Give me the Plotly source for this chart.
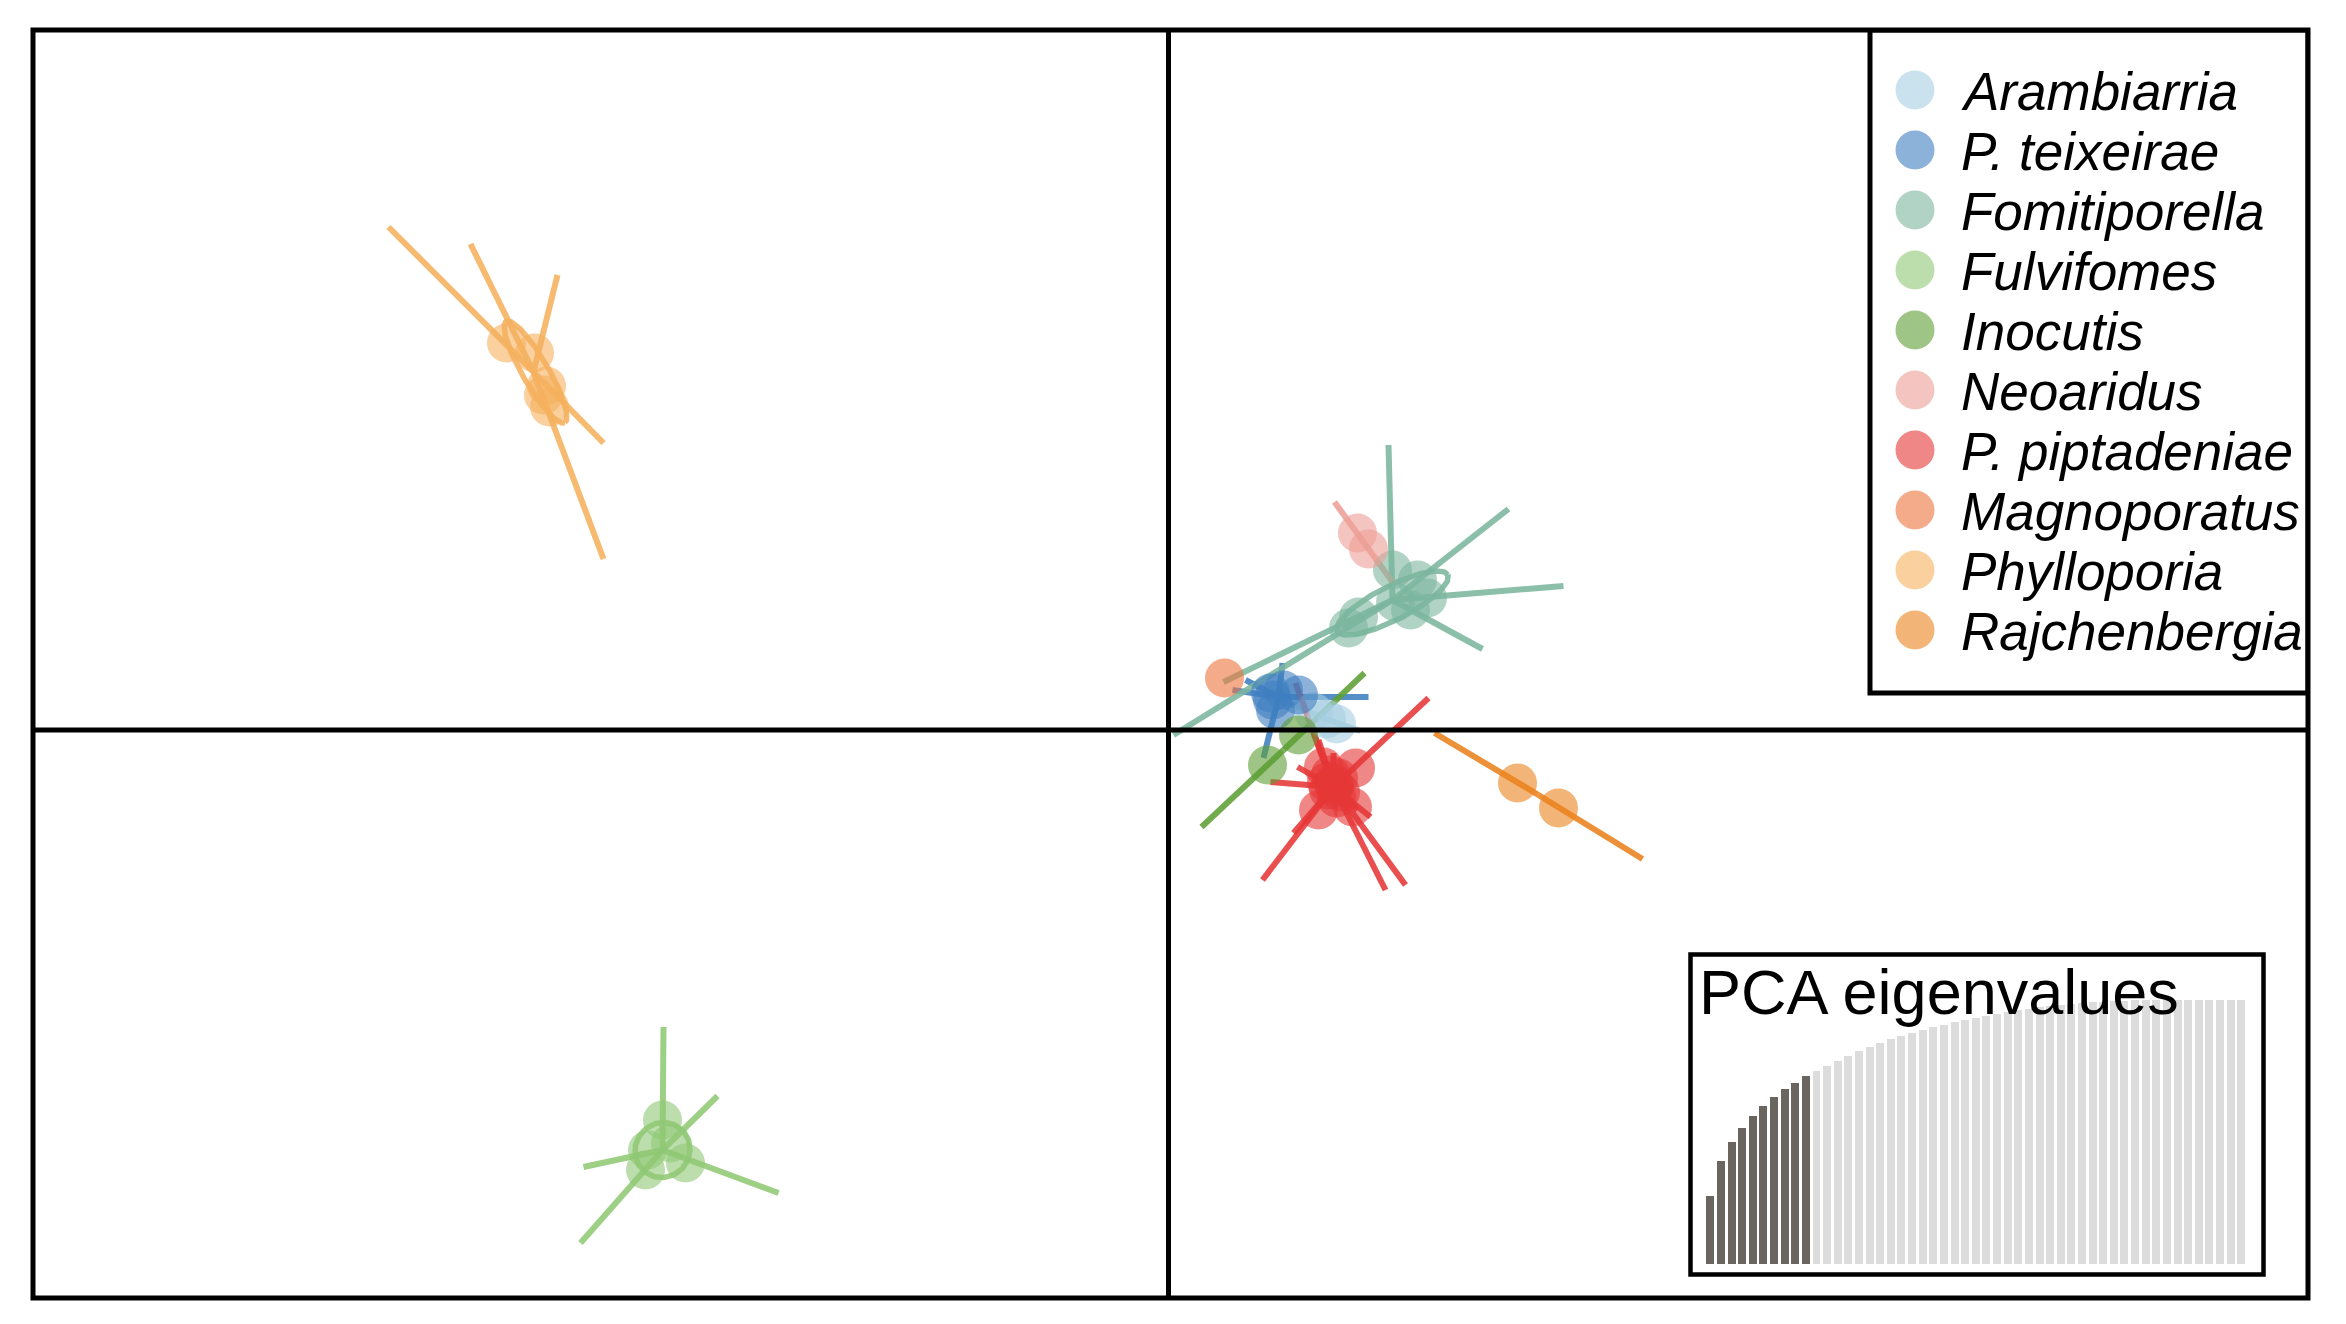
import math
import plotly.graph_objects as go

# ---------------- data ----------------
GROUPS = ["Arambiarria", "P. teixeirae", "Fomitiporella", "Fulvifomes", "Inocutis",
          "Neoaridus", "P. piptadeniae", "Magnoporatus", "Phylloporia", "Rajchenbergia"]
COLORS = ["#a6cee3", "#3f7fc0", "#7bb69e", "#8fc874", "#5e9e35",
          "#ed9e96", "#e63737", "#eb733c", "#f5b15d", "#eb821c"]

# individuals (discriminant function coordinates)
ARAM_X = [1.45, 1.58, 1.68]
ARAM_Y = [0.18, 0.11, 0.06]
TEIX_X = [1.02, 1.15, 1.30, 1.07, 1.04]
TEIX_Y = [0.37, 0.40, 0.35, 0.20, 0.30]
FOMI_X = [2.24, 2.49, 2.59, 2.27, 2.42, 1.90, 1.80]
FOMI_Y = [1.60, 1.50, 1.32, 1.28, 1.20, 1.13, 1.02]
FULV_X = [-5.06, -4.83, -5.23, -5.21, -4.98]
FULV_Y = [-3.90, -4.33, -4.40, -4.20, -4.13]
INOC_X = [1.30, 0.99]
INOC_Y = [-0.05, -0.35]
NEOA_X = [1.89, 2.00]
NEOA_Y = [1.97, 1.81]
PIPT_X = [1.87, 1.84, 1.50, 1.55, 1.65, 1.60, 1.70, 1.62, 1.72, 1.58, 1.68, 1.66]
PIPT_Y = [-0.38, -0.77, -0.80, -0.37, -0.53, -0.60, -0.48, -0.45, -0.62, -0.52, -0.68, -0.56]
MAGN_X = [0.56]
MAGN_Y = [0.52]
PHYL_X = [-6.62, -6.34, -6.22, -6.19, -6.25]
PHYL_Y = [3.87, 3.77, 3.44, 3.23, 3.35]
RAJC_X = [3.49, 3.90]
RAJC_Y = [-0.53, -0.78]

# group centroids
CENT_X = [1.55, 1.10, 2.24, -5.06, 1.15, 1.95, 1.65, 0.56, -6.35, 3.70]
CENT_Y = [0.12, 0.33, 1.30, -4.20, -0.20, 1.88, -0.57, 0.52, 3.58, -0.65]

# star segment end points
ARAM_SX = [1.12, 1.92]
ARAM_SY = [0.31, -0.01]
TEIX_SX = [0.64, 0.77, 1.14, 2.00, 0.95]
TEIX_SY = [0.40, 0.50, 0.67, 0.33, -0.28]
FOMI_SX = [2.20, 3.40, 3.95, 3.14, 0.05, 0.55]
FOMI_SY = [2.85, 2.21, 1.44, 0.81, -0.05, 0.48]
FULV_SX = [-5.05, -4.51, -3.90, -5.88, -5.85]
FULV_SY = [-2.97, -3.66, -4.63, -5.13, -4.37]
INOC_SX = [0.33, 1.96]
INOC_SY = [-0.97, 0.57]
NEOA_SX = [1.66, 2.24]
NEOA_SY = [2.28, 1.48]
PIPT_SX = [1.27, 2.60, 0.94, 2.17, 2.37, 1.02, 1.29, 2.02, 1.25, 1.50, 1.65, 1.45, 1.89]
PIPT_SY = [0.47, 0.32, -1.50, -1.60, -1.55, -0.52, -0.37, -0.87, -1.03, -0.10, -0.23, -0.03, -0.80]
MAGN_SX = [0.56]
MAGN_SY = [0.52]
PHYL_SX = [-7.80, -5.65, -6.98, -5.65, -6.11]
PHYL_SY = [5.03, 2.87, 4.86, 1.71, 4.55]
RAJC_SX = [2.66, 4.74]
RAJC_SY = [-0.03, -1.29]

# inertia ellipses: group index, centre x, centre y, semi-axis a, semi-axis b, angle (deg)
ELL_GROUP = [2, 3, 8]
ELL_CX = [2.24, -5.06, -6.33]
ELL_CY = [1.27, -4.20, 3.58]
ELL_A = [0.62, 0.28, 0.585]
ELL_B = [0.17, 0.27, 0.13]
ELL_ANG = [27, 45, -60]

# PCA eigenvalues inset (cumulative, relative)
EIG_VALUES = [0.259, 0.392, 0.465, 0.516, 0.561, 0.601, 0.633, 0.662, 0.687, 0.711,
              0.732, 0.749, 0.770, 0.789, 0.806, 0.823, 0.837, 0.851, 0.863, 0.875,
              0.886, 0.897, 0.906, 0.915, 0.924, 0.933, 0.941, 0.948, 0.954, 0.961,
              0.967, 0.972, 0.977, 0.981, 0.985, 0.989, 0.991, 0.994, 0.996, 0.997,
              0.999, 1.0, 1.0, 1.0, 1.0, 1.0, 1.0, 1.0, 1.0, 1.0, 1.0]
N_RETAINED = 10

POINTS = [(ARAM_X, ARAM_Y), (TEIX_X, TEIX_Y), (FOMI_X, FOMI_Y), (FULV_X, FULV_Y),
          (INOC_X, INOC_Y), (NEOA_X, NEOA_Y), (PIPT_X, PIPT_Y), (MAGN_X, MAGN_Y),
          (PHYL_X, PHYL_Y), (RAJC_X, RAJC_Y)]
STARS = [(ARAM_SX, ARAM_SY), (TEIX_SX, TEIX_SY), (FOMI_SX, FOMI_SY), (FULV_SX, FULV_SY),
         (INOC_SX, INOC_SY), (NEOA_SX, NEOA_SY), (PIPT_SX, PIPT_SY), (MAGN_SX, MAGN_SY),
         (PHYL_SX, PHYL_SY), (RAJC_SX, RAJC_SY)]

# ---------------- layout constants ----------------
W, H = 2346, 1324            # browser window
OFF = 8                      # default body margin of the html page
ML, MR, MT, MB = 33, 38, 30, 26   # frame position in page pixels
X_RANGE = [-11.355, 11.395]
Y_RANGE = [-5.68, 7.00]
PX_X = [ML, W - MR]          # page-pixel frame for overlay axis
PX_Y = [H - MB, MT]
FONT = "Liberation Sans, Arial, Helvetica, sans-serif"
DOT_ALPHA = 0.6
LINE_ALPHA = 0.88


def rgba(hex_color, a):
    h = hex_color.lstrip("#")
    r, g, b = int(h[0:2], 16), int(h[2:4], 16), int(h[4:6], 16)
    return f"rgba({r},{g},{b},{a})"


fig = go.Figure()

# ellipses
for gi, cx, cy, a, b, ang in zip(ELL_GROUP, ELL_CX, ELL_CY, ELL_A, ELL_B, ELL_ANG):
    th = math.radians(ang)
    ex, ey = [], []
    for k in range(121):
        t = 2 * math.pi * k / 120
        ex.append(cx + a * math.cos(t) * math.cos(th) - b * math.sin(t) * math.sin(th))
        ey.append(cy + a * math.cos(t) * math.sin(th) + b * math.sin(t) * math.cos(th))
    fig.add_trace(go.Scatter(x=ex, y=ey, mode="lines", hoverinfo="skip", showlegend=False,
                             line=dict(color=rgba(COLORS[gi], LINE_ALPHA), width=5.5)))

# stars
for gi, (sx, sy) in enumerate(STARS):
    lx, ly = [], []
    for x, y in zip(sx, sy):
        lx += [CENT_X[gi], x, None]
        ly += [CENT_Y[gi], y, None]
    fig.add_trace(go.Scatter(x=lx, y=ly, mode="lines", hoverinfo="skip", showlegend=False,
                             line=dict(color=rgba(COLORS[gi], LINE_ALPHA), width=6)))

# individuals
for gi, (px, py) in enumerate(POINTS):
    fig.add_trace(go.Scatter(x=px, y=py, mode="markers", name=GROUPS[gi], showlegend=False,
                             marker=dict(size=39, color=rgba(COLORS[gi], DOT_ALPHA),
                                         line=dict(width=0))))

# ---------------- custom legend (overlay axis in page-pixel units) ----------------
LEG_MARK_X = 1915
LEG_TEXT_X = 1959
LEG_Y0 = 90
LEG_DY = 60
leg_y = [LEG_Y0 + LEG_DY * i for i in range(len(GROUPS))]
fig.add_trace(go.Scatter(x=[LEG_MARK_X] * len(GROUPS), y=leg_y, mode="markers",
                         xaxis="x2", yaxis="y2", showlegend=False, hoverinfo="skip",
                         marker=dict(size=39, color=[rgba(c, DOT_ALPHA) for c in COLORS],
                                     line=dict(width=0))))
annotations = []
for g, y in zip(GROUPS, leg_y):
    annotations.append(dict(x=LEG_TEXT_X, y=y + 1, xref="x2", yref="y2", text=f"<i>{g}</i>",
                            showarrow=False, xanchor="left", yanchor="middle",
                            font=dict(family=FONT, size=53, color="black")))

# ---------------- eigenvalue inset ----------------
bar_x = list(range(1, len(EIG_VALUES) + 1))
bar_colors = ["#6b6560" if i < N_RETAINED else "#dcdcdc" for i in range(len(EIG_VALUES))]
fig.add_trace(go.Bar(x=bar_x, y=EIG_VALUES, xaxis="x3", yaxis="y3", width=0.75,
                     marker=dict(color=bar_colors, line=dict(width=0)),
                     showlegend=False, hoverinfo="skip"))
annotations.append(dict(x=1697, y=992, xref="x2", yref="y2", text="PCA eigenvalues",
                        showarrow=False, xanchor="left", yanchor="middle",
                        font=dict(family=FONT, size=63, color="black")))

plot_w = W - ML - MR
plot_h = H - MT - MB
inset_x0 = (1704.7 - ML) / plot_w
inset_x1 = (2246.3 - ML) / plot_w
inset_y0 = (H - MB - 1264) / plot_h
inset_y1 = (H - MB - 999.5) / plot_h

hidden = dict(showgrid=False, zeroline=False, showticklabels=False, ticks="", showline=False)

shapes = [
    # axes through origin
    dict(type="line", xref="x", yref="paper", x0=0, x1=0, y0=0, y1=1,
         line=dict(color="black", width=5)),
    dict(type="line", xref="paper", yref="y", x0=0, x1=1, y0=0, y1=0,
         line=dict(color="black", width=5)),
    # frame
    dict(type="rect", xref="paper", yref="paper", x0=0, x1=1, y0=0, y1=1,
         line=dict(color="black", width=5)),
    # legend box
    dict(type="rect", xref="x2", yref="y2", x0=1870, x1=2308, y0=30, y1=693,
         line=dict(color="black", width=5), fillcolor="rgba(0,0,0,0)"),
    # inset box
    dict(type="rect", xref="x2", yref="y2", x0=1690.5, x1=2263.5, y0=954.5, y1=1274.5,
         line=dict(color="black", width=4.5), fillcolor="rgba(0,0,0,0)"),
]

fig.update_layout(
    width=W - OFF, height=H - OFF,
    margin=dict(l=ML - OFF, r=MR, t=MT - OFF, b=MB, pad=0),
    paper_bgcolor="white", plot_bgcolor="white",
    showlegend=False,
    xaxis=dict(range=X_RANGE, domain=[0, 1], **hidden),
    yaxis=dict(range=Y_RANGE, domain=[0, 1], **hidden),
    xaxis2=dict(range=PX_X, overlaying="x", anchor="y2", **hidden),
    yaxis2=dict(range=PX_Y, overlaying="y", anchor="x2", **hidden),
    xaxis3=dict(range=[0.5, len(EIG_VALUES) + 0.5], domain=[inset_x0, inset_x1],
                anchor="y3", **hidden),
    yaxis3=dict(range=[0, 1], domain=[inset_y0, inset_y1], anchor="x3", **hidden),
    shapes=shapes,
    annotations=annotations,
    bargap=0,
)

fig.write_html("out.html")
